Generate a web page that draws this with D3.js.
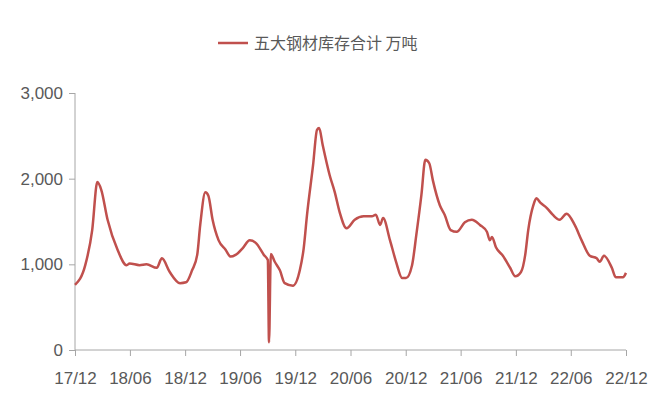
<!DOCTYPE html>
<html><head><meta charset="utf-8">
<script src="https://cdn.jsdelivr.net/npm/d3@7"></script>
<style>body{margin:0;background:#fff}</style></head>
<body><svg id="c" width="649" height="419"></svg>
<script>
const dates=["2017-12-01","2018-01-04","2018-01-27","2018-02-13","2018-02-26","2018-03-19","2018-04-21","2018-05-21","2018-05-31","2018-07-03","2018-07-26","2018-08-29","2018-09-15","2018-10-11","2018-11-14","2018-12-04","2018-12-24","2019-01-10","2019-01-20","2019-02-06","2019-02-16","2019-03-02","2019-03-22","2019-04-14","2019-05-01","2019-05-17","2019-06-10","2019-07-03","2019-07-23","2019-08-19","2019-09-01","2019-09-05","2019-09-11","2019-09-24","2019-10-11","2019-10-27","2019-11-23","2019-12-16","2019-12-29","2020-01-09","2020-01-29","2020-02-11","2020-02-18","2020-03-01","2020-03-24","2020-04-10","2020-04-26","2020-05-19","2020-06-15","2020-07-15","2020-08-11","2020-08-24","2020-09-07","2020-09-17","2020-10-10","2020-10-30","2020-11-19","2020-12-02","2020-12-22","2021-01-05","2021-01-22","2021-02-04","2021-02-17","2021-03-01","2021-03-24","2021-04-09","2021-04-29","2021-05-19","2021-06-15","2021-07-08","2021-08-04","2021-08-27","2021-09-06","2021-09-13","2021-09-26","2021-10-19","2021-11-12","2021-11-29","2021-12-18","2022-01-01","2022-01-11","2022-01-28","2022-02-07","2022-02-20","2022-03-13","2022-04-02","2022-04-25","2022-05-18","2022-06-14","2022-07-07","2022-08-03","2022-08-26","2022-09-05","2022-09-19","2022-10-15","2022-10-28","2022-11-21","2022-12-01"];
const values=[760,990,1400,1960,1870,1520,1170,990,1010,990,1000,960,1070,910,780,790,930,1110,1460,1840,1800,1520,1280,1170,1090,1110,1190,1280,1250,1110,1050,90,1120,1030,930,780,750,930,1190,1580,2160,2570,2590,2390,2040,1840,1610,1420,1520,1560,1560,1580,1460,1540,1280,1030,840,840,990,1340,1810,2220,2180,1980,1690,1580,1400,1380,1490,1520,1460,1380,1280,1320,1200,1100,960,860,910,1110,1400,1690,1770,1720,1660,1580,1520,1590,1460,1280,1100,1070,1030,1100,960,850,850,900];
const xTicks=["2017-12-01","2018-06-01","2018-12-01","2019-06-01","2019-12-01","2020-06-01","2020-12-01","2021-06-01","2021-12-01","2022-06-01","2022-12-01"];
const yTicks=[0,1000,2000,3000];
const seriesName="五大钢材库存合计 万吨";
const p=d3.timeParse("%Y-%m-%d");
const data=dates.map((d,i)=>({d:p(d),v:values[i]}));
const svg=d3.select("#c");
const x=d3.scaleTime().domain([p(xTicks[0]),p(xTicks[xTicks.length-1])]).range([75,626]);
const y=d3.scaleLinear().domain([0,3000]).range([350,93]);
const font="'Liberation Sans', Arial, sans-serif";
const gx=svg.append("g").attr("transform","translate(0,350)")
 .call(d3.axisBottom(x).tickValues(xTicks.map(p)).tickFormat(d3.timeFormat("%y/%m")).tickSize(6).tickPadding(16));
const gy=svg.append("g").attr("transform","translate(75,0)")
 .call(d3.axisLeft(y).tickValues(yTicks).tickSize(6).tickPadding(6));
[gx,gy].forEach(g=>{g.selectAll("path,line").attr("stroke","#a6a6a6");
 g.selectAll("text").attr("fill","#595959").style("font-family",font).style("font-size","17px");});
gy.select(".domain").attr("d","M0,350V93");
gx.select(".domain").attr("d","M75,0H626");
svg.append("path").datum(data).attr("fill","none").attr("stroke","#C0504D").attr("stroke-width",2.5)
 .attr("stroke-linejoin","round")
 .attr("d",d3.line().x(d=>x(d.d)).y(d=>y(d.v)).curve(d3.curveMonotoneX));
svg.append("line").attr("x1",218).attr("x2",248).attr("y1",43).attr("y2",43).attr("stroke","#C0504D").attr("stroke-width",2.5);
svg.append("text").attr("x",254).attr("y",49).text(seriesName).attr("fill","#595959")
 .style("font-family","'Noto Sans CJK SC', sans-serif").style("font-size","16px");
</script></body></html>
